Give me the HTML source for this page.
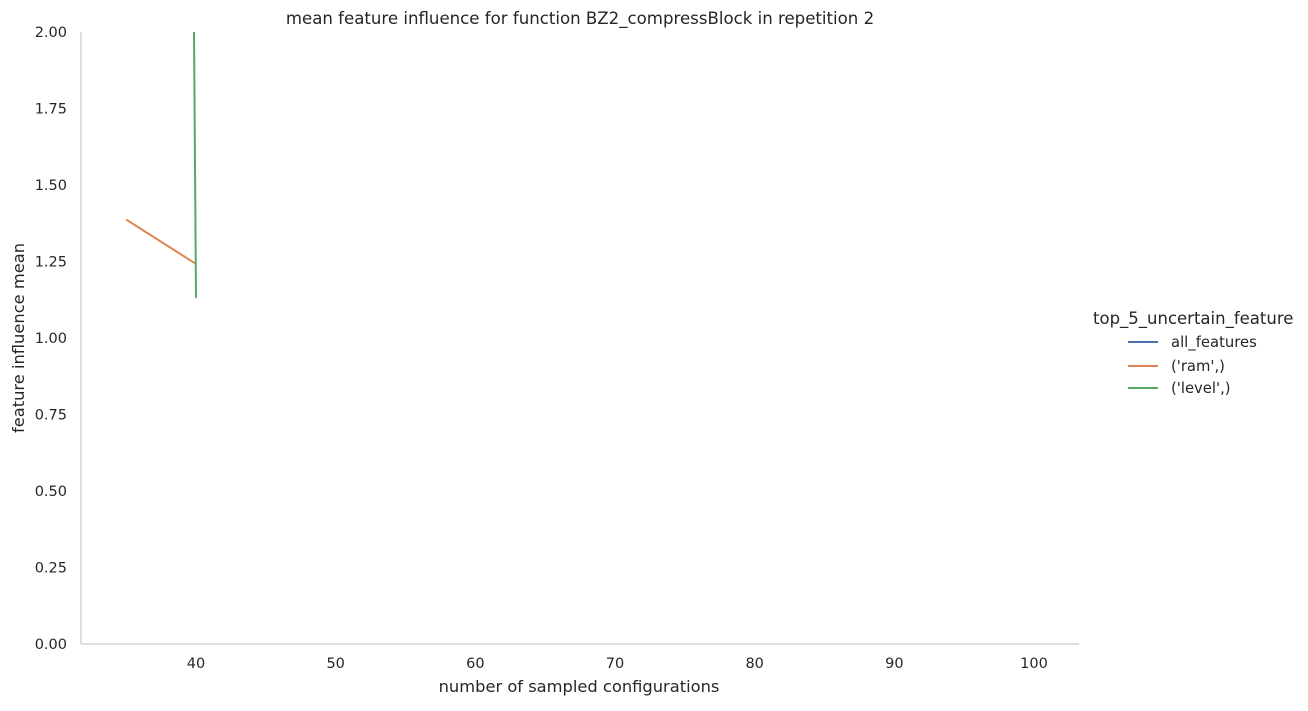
<!DOCTYPE html>
<html><head><meta charset="utf-8"><style>
body{margin:0;background:#fff;font-family:"Liberation Sans","DejaVu Sans",sans-serif;}
text{font-family:"DejaVu Sans","Liberation Sans",sans-serif;fill:#262626;}
</style></head><body>
<svg id="chart" width="1308" height="706" xmlns="http://www.w3.org/2000/svg">
<defs><clipPath id="plotclip"><rect x="81" y="32" width="998" height="612"/></clipPath></defs>
<text x="580" y="24" font-size="16.6" text-anchor="middle">mean feature influence for function BZ2_compressBlock in repetition 2</text>
<line x1="81" y1="32" x2="81" y2="644" stroke="#ccc" stroke-width="1.25"/>
<line x1="81" y1="644" x2="1079" y2="644" stroke="#ccc" stroke-width="1.25"/>
<g id="xticks"></g><g id="yticks"></g>
<text x="579" y="692" font-size="16.3" text-anchor="middle">number of sampled configurations</text>
<text transform="translate(24,338) rotate(-90)" font-size="16.3" text-anchor="middle">feature influence mean</text>
<g id="series" clip-path="url(#plotclip)"></g>
<g>
<text x="1093" y="324" font-size="16.5">top_5_uncertain_feature</text>
<line x1="1128" y1="342" x2="1158" y2="342" stroke="#4c72b0" stroke-width="2"/>
<text x="1171" y="347" font-size="14.8">all_features</text>
<line x1="1128" y1="366" x2="1158" y2="366" stroke="#dd8452" stroke-width="2"/>
<text x="1171" y="371" font-size="14.8">('ram',)</text>
<line x1="1128" y1="388" x2="1158" y2="388" stroke="#55a868" stroke-width="2"/>
<text x="1171" y="393" font-size="14.8">('level',)</text>
</g>
</svg>
<script>
const xTicks=[40,50,60,70,80,90,100];
const yTicks=[0,0.25,0.5,0.75,1.0,1.25,1.5,1.75,2.0];
const yTickLabels=["0.00","0.25","0.50","0.75","1.00","1.25","1.50","1.75","2.00"];
const seriesNames=["all_features","ram","level"];
const seriesColors=["#4c72b0","#dd8452","#55a868"];
const allX=[];const allY=[];
const ramX=[35,40];const ramY=[1.387,1.242];
const levelX=[35,40];const levelY=[31.6,1.131];
const NS="http://www.w3.org/2000/svg";
function sx(v){return 196+(v-40)*(1034-196)/60;}
function sy(v){return 644-v*(644-32)/2;}
const xt=document.getElementById('xticks');
xTicks.forEach(t=>{const e=document.createElementNS(NS,'text');


e.setAttribute('x',sx(t));e.setAttribute('y',668);e.setAttribute('font-size','14.5');e.setAttribute('text-anchor','middle');e.textContent=t;xt.appendChild(e);});
const yt=document.getElementById('yticks');
yTicks.forEach((t,i)=>{const e=document.createElementNS(NS,'text');


e.setAttribute('x',67);e.setAttribute('y',sy(t)+5);e.setAttribute('font-size','14.5');e.setAttribute('text-anchor','end');e.textContent=yTickLabels[i];yt.appendChild(e);});
const g=document.getElementById('series');
[[allX,allY],[ramX,ramY],[levelX,levelY]].forEach((s,i)=>{if(!s[0].length)return;
const p=document.createElementNS(NS,'polyline');


p.setAttribute('points',s[0].map((x,j)=>sx(x)+','+sy(s[1][j])).join(' '));
p.setAttribute('fill','none');p.setAttribute('stroke',seriesColors[i]);p.setAttribute('stroke-width','2');g.appendChild(p);});
</script>
</body></html>
